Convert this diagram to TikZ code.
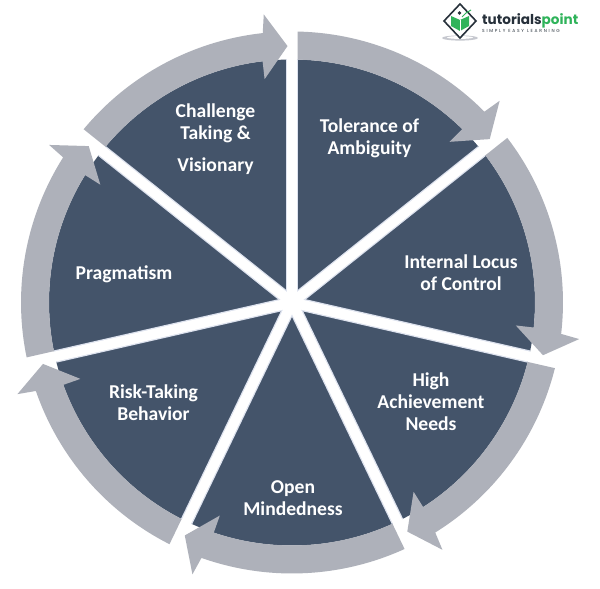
\documentclass[tikz,border=0pt]{standalone}
\usepackage{fontspec}
\setmainfont{Carlito}
\newfontfamily\logofont{Poppins}
\definecolor{sectordark}{HTML}{44546A}
\definecolor{bandgrey}{HTML}{AEB1BA}
\definecolor{gapedge}{HTML}{DDE2EE}
\definecolor{logogreen}{HTML}{2FB35A}
\definecolor{logodark}{HTML}{26303A}
\tikzset{
  gapline/.style={line width=12.5pt,draw=gapedge},
  gapcore/.style={line width=10pt,draw=white},
  bandarrow/.style={fill=bandgrey,draw=none},
  lbl/.style={text=white,font=\fontsize{19.6}{22}\selectfont\bfseries,align=center,inner sep=0pt}
}
\begin{document}
\begin{tikzpicture}[x=1pt,y=1pt]
\useasboundingbox (0,0) rectangle (600,589);
\fill[white] (0,0) rectangle (600,589);
\begin{scope}[shift={(292,286.5)}]
  \fill[sectordark] (0,0) circle[radius=243];
  \foreach \i in {0,...,6}{
    \pgfmathsetmacro{\gapang}{90-\i*360/7}
    \draw[gapline] (0,0) -- (\gapang:243);
  }
  \foreach \i in {0,...,6}{
    \pgfmathsetmacro{\gapang}{90-\i*360/7}
    \draw[gapcore] (0,0) -- (\gapang:244);
  }
  \fill[white] (0,0) circle[radius=8];
  \foreach \i in {0,...,6}{
    \pgfmathsetmacro{\gapang}{90-\i*360/7}
    \begin{scope}[rotate=\gapang]
      \fill[bandarrow] (-1.17:271) arc[start angle=-1.17,end angle=-45.23,radius=271]
        -- (-45.83:289.5) -- (-50.43:256.5) -- (-44.43:225) -- (-44.48:243)
        arc[start angle=-44.48,end angle=-1.30,radius=243] -- cycle;
    \end{scope}
  }
\end{scope}
\node[lbl] (challenge) at (215.5,450) {Challenge\\Taking \&\\[10pt]Visionary};
\node[lbl] (tolerance) at (369.5,451) {Tolerance of\\Ambiguity};
\node[lbl] (locus) at (461,316.5) {Internal Locus\\of Control};
\node[lbl] (achieve) at (431,187) {High\\Achievement\\Needs};
\node[lbl] (open) at (293,91) {Open\\Mindedness};
\node[lbl] (risk) at (153.5,186.5) {Risk-Taking\\Behavior};
\node[lbl] (pragma) at (124,315) {Pragmatism};
% logo
\fill[bandgrey!70] (460,551) ellipse[x radius=18,y radius=2.6];
\fill[white] (460,551.5) ellipse[x radius=13,y radius=1.4];
\draw[logodark,line width=1.6pt,fill=white] (460,585) -- (476,568) -- (460,551) -- (444,568) -- cycle;
\fill[logogreen] (451,573) -- (460,569) -- (469,573) -- (469,563) -- (460,558) -- (451,563) -- cycle;
\draw[white,line width=0.8pt] (460,569) -- (460,558);
\fill[logodark] (459.5,576) circle[radius=1.8];
\draw[logogreen,line width=1pt] (462,572) -- (466,576) -- (471,579);
\node[inner sep=0pt,anchor=west,text=logodark] (logoname) at (482,568.5)
  {\logofont\bfseries\fontsize{13.6}{14}\selectfont tutorials\textcolor{logogreen}{point}};
\node[inner sep=0pt,anchor=west,text=logodark] (logotag) at (482,558.5)
  {\logofont\fontsize{4.4}{5}\selectfont\addfontfeature{LetterSpace=40}SIMPLY EASY LEARNING};
\end{tikzpicture}
\end{document}
